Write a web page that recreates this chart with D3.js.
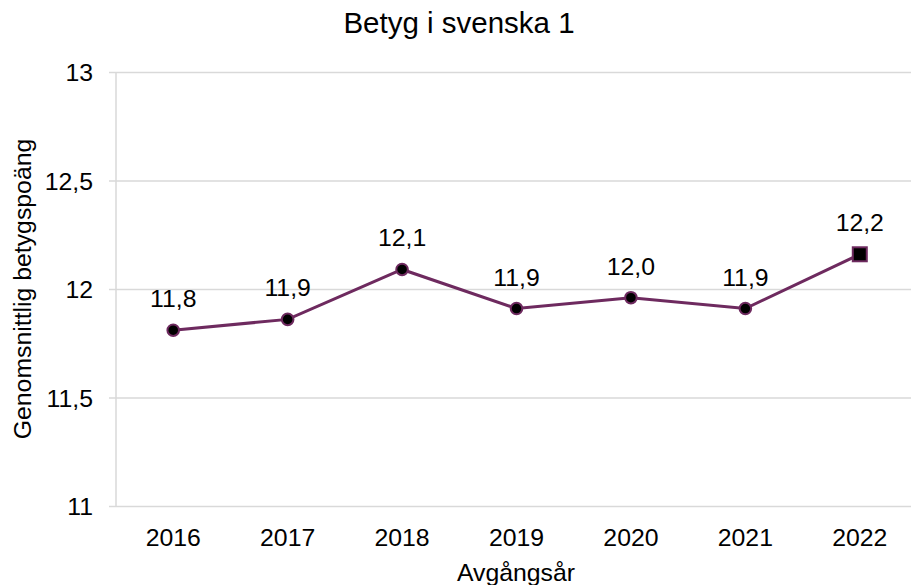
<!DOCTYPE html>
<html>
<head>
<meta charset="utf-8">
<script src="https://cdn.jsdelivr.net/npm/d3@7"></script>
<style>
  body { margin: 0; background: #fff; }
  svg { display: block; font-family: "Liberation Sans", Arial, sans-serif; }
</style>
</head>
<body>
<div id="chart"></div>
<script>
// data
const years = ['2016', '2017', '2018', '2019', '2020', '2021', '2022'];
const meanScores = [11.81, 11.86, 12.09, 11.91, 11.96, 11.91, 12.16];
const yTicks = [11, 11.5, 12, 12.5, 13];

const width = 911, height = 585;
const plot = { left: 116, right: 917, top: 72, bottom: 506 };
const purple = '#6e2a5f';
const grid = '#d9d9d9';
const labelSize = 24.8;
const fmt = v => v.toFixed(1).replace('.', ',');
const fmtTick = v => String(v).replace('.', ',');

const svg = d3.select('#chart')
    .append('svg')
    .attr('width', width)
    .attr('height', height);

const x = d3.scaleBand()
    .domain(years)
    .range([plot.left, plot.right]);

const y = d3.scaleLinear()
    .domain([11, 13])
    .range([plot.bottom, plot.top]);

// y axis: gridlines, short ticks, labels
const yAxis = svg.append('g')
    .attr('transform', `translate(${plot.left},0)`)
    .call(d3.axisLeft(y)
        .tickValues(yTicks)
        .tickSize(-(plot.right - plot.left))
        .tickFormat(fmtTick));
yAxis.select('.domain').remove();
yAxis.selectAll('.tick line')
    .attr('x1', -7)
    .attr('stroke', grid)
    .attr('stroke-width', 1.5);
yAxis.selectAll('.tick text')
    .attr('x', -23)
    .attr('dy', '0.35em')
    .attr('font-size', labelSize)
    .attr('fill', '#000');

// vertical axis line
svg.append('line')
    .attr('x1', plot.left).attr('x2', plot.left)
    .attr('y1', plot.top).attr('y2', plot.bottom)
    .attr('stroke', grid)
    .attr('stroke-width', 1.5);

// x axis labels
const xAxis = svg.append('g')
    .attr('transform', `translate(0,${plot.bottom})`)
    .call(d3.axisBottom(x).tickSize(0));
xAxis.select('.domain').remove();
xAxis.selectAll('.tick text')
    .attr('y', 40)
    .attr('dy', 0)
    .attr('font-size', labelSize)
    .attr('fill', '#000');

// line
const line = d3.line()
    .x((d, i) => x(years[i]) + x.bandwidth() / 2)
    .y(d => y(d));

svg.append('path')
    .datum(meanScores)
    .attr('d', line)
    .attr('fill', 'none')
    .attr('stroke', purple)
    .attr('stroke-width', 3);

// markers: circles, last point is a square
const pts = meanScores.map((v, i) => ({ v, yr: years[i], last: i === meanScores.length - 1 }));

svg.append('g')
    .selectAll('circle')
    .data(pts.filter(d => !d.last))
    .enter()
    .append('circle')
    .attr('cx', d => x(d.yr) + x.bandwidth() / 2)
    .attr('cy', d => y(d.v))
    .attr('r', 5.8)
    .attr('fill', '#000')
    .attr('stroke', purple)
    .attr('stroke-width', 2);

svg.append('g')
    .selectAll('rect')
    .data(pts.filter(d => d.last))
    .enter()
    .append('rect')
    .attr('x', d => x(d.yr) + x.bandwidth() / 2 - 7)
    .attr('y', d => y(d.v) - 7)
    .attr('width', 14)
    .attr('height', 14)
    .attr('fill', '#000')
    .attr('stroke', purple)
    .attr('stroke-width', 2);

// data labels
svg.append('g')
    .selectAll('text')
    .data(pts)
    .enter()
    .append('text')
    .attr('x', d => x(d.yr) + x.bandwidth() / 2)
    .attr('y', d => y(d.v) - 23)
    .attr('text-anchor', 'middle')
    .attr('font-size', labelSize)
    .attr('fill', '#000')
    .text(d => fmt(d.v));

// title
svg.append('text')
    .attr('x', 459)
    .attr('y', 33)
    .attr('text-anchor', 'middle')
    .attr('font-size', 29.5)
    .attr('fill', '#000')
    .text('Betyg i svenska 1');

// axis titles
svg.append('text')
    .attr('x', 516)
    .attr('y', 581)
    .attr('text-anchor', 'middle')
    .attr('font-size', labelSize)
    .attr('fill', '#000')
    .text('Avgångsår');

svg.append('text')
    .attr('transform', `translate(31,${(plot.top + plot.bottom) / 2}) rotate(-90)`)
    .attr('text-anchor', 'middle')
    .attr('font-size', labelSize)
    .attr('fill', '#000')
    .text('Genomsnittlig betygspoäng');
</script>
</body>
</html>
